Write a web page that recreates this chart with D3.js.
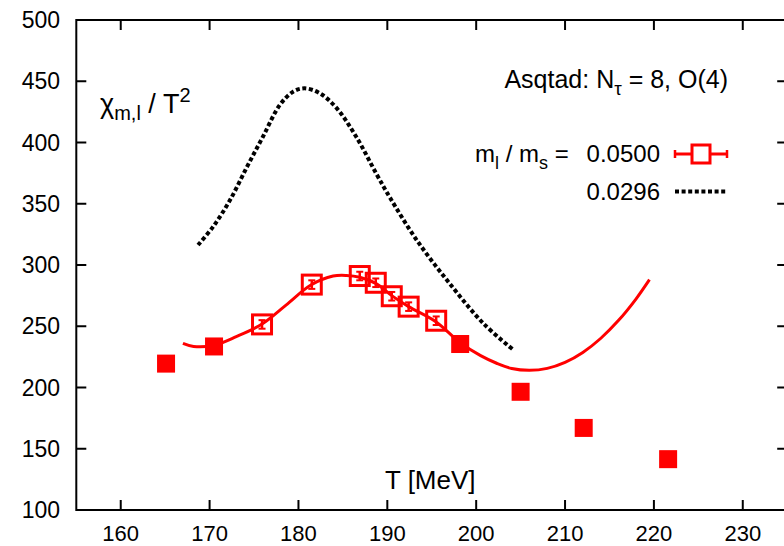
<!DOCTYPE html>
<html>
<head>
<meta charset="utf-8">
<script src="https://cdn.jsdelivr.net/npm/d3@7"></script>
<style>
  body { margin: 0; background: #fff; }
  svg { display: block; font-family: "Liberation Sans", Arial, Helvetica, sans-serif; }
</style>
</head>
<body>
<svg width="784" height="546"></svg>
<script>
// x ticks and y ticks
const xTicks = [160, 170, 180, 190, 200, 210, 220, 230];
const yTicks = [100, 150, 200, 250, 300, 350, 400, 450, 500];

// filled squares (no error bars)
const filledT = [165.1, 170.5, 198.2, 205.0, 212.1, 221.6];
const filledChi = [219.5, 233.5, 235.5, 196.5, 167.0, 141.5];

// open squares with error bars, ml/ms = 0.0500
const openT = [175.9, 181.5, 186.9, 188.7, 190.5, 192.4, 195.5];
const openChi = [251.5, 284.0, 291.0, 285.5, 274.5, 266.0, 254.5];
const openErr = [3.5, 3.5, 3.5, 3.5, 3.5, 3.5, 3.5];

// red fit curve
const fitT = [167.0, 168.2, 170.5, 173.0, 175.9, 178.6, 181.4, 183.9, 185.4, 186.9, 188.7, 190.5, 192.4, 195.5, 198.2, 200.5, 202.3, 204.0, 206.0, 208.0, 210.0, 212.0, 214.0, 216.0, 218.0, 219.5];
const fitChi = [236.0, 233.5, 234.5, 241.5, 251.8, 267.3, 283.7, 291.0, 291.5, 290.0, 285.0, 275.0, 266.0, 253.5, 236.5, 226.0, 219.8, 215.5, 214.0, 215.6, 220.5, 228.6, 240.0, 254.6, 272.4, 288.0];

// black dotted curve, ml/ms = 0.0296
const dotT = [168.7, 170.4, 172.3, 174.2, 176.0, 177.9, 179.4, 180.7, 182.4, 184.3, 186.5, 188.8, 190.3, 193.3, 197.0, 200.8, 204.1];
const dotChi = [316.3, 331.3, 353.0, 380.0, 404.7, 430.6, 441.5, 444.2, 440.2, 428.0, 404.7, 374.0, 355.0, 320.4, 285.0, 252.4, 231.2];

const svg = d3.select("svg");
const x = d3.scaleLinear([155, 235], [76.3, 787.2]);
const y = d3.scaleLinear([100, 500], [510, 20]);
const red = "#ff0000";

// frame
svg.append("rect")
  .attr("x", x(155)).attr("y", y(500))
  .attr("width", x(235) - x(155)).attr("height", y(100) - y(500))
  .attr("fill", "none").attr("stroke", "#000").attr("stroke-width", 2);

// ticks on all four sides, pointing inward
const tl = 10;
const tickG = svg.append("g").attr("stroke", "#000").attr("stroke-width", 2);
xTicks.forEach((t) => {
  tickG.append("line").attr("x1", x(t)).attr("x2", x(t)).attr("y1", y(100)).attr("y2", y(100) - tl);
  tickG.append("line").attr("x1", x(t)).attr("x2", x(t)).attr("y1", y(500)).attr("y2", y(500) + tl);
});
yTicks.forEach((t) => {
  tickG.append("line").attr("x1", x(155)).attr("x2", x(155) + tl).attr("y1", y(t)).attr("y2", y(t));
  tickG.append("line").attr("x1", x(235)).attr("x2", x(235) - tl).attr("y1", y(t)).attr("y2", y(t));
});

// tick labels
svg.append("g").selectAll("text").data(xTicks).join("text")
  .attr("x", (d) => x(d)).attr("y", 541)
  .attr("text-anchor", "middle").attr("font-size", 22)
  .text((d) => d);
svg.append("g").selectAll("text").data(yTicks).join("text")
  .attr("x", 60).attr("y", (d) => y(d) + 8)
  .attr("text-anchor", "end").attr("font-size", 23)
  .text((d) => d);

// axis labels
const yl = svg.append("text").attr("x", 100).attr("y", 113).attr("font-size", 27);
yl.append("tspan").text("χ");
yl.append("tspan").attr("dy", 7).attr("font-size", 20).text("m,l");
yl.append("tspan").attr("dy", -7).text(" / T");
yl.append("tspan").attr("dy", -11).attr("font-size", 20).text("2");

svg.append("text").attr("x", 385).attr("y", 489).attr("font-size", 26).text("T [MeV]");

// dotted curve
const line = d3.line().x((d) => x(d[0])).y((d) => y(d[1])).curve(d3.curveCatmullRom);
svg.append("path")
  .datum(d3.zip(dotT, dotChi))
  .attr("d", line)
  .attr("fill", "none").attr("stroke", "#000")
  .attr("stroke-width", 4).attr("stroke-dasharray", "4,2.6");

// red fit curve
svg.append("path")
  .datum(d3.zip(fitT, fitChi))
  .attr("d", line)
  .attr("fill", "none").attr("stroke", red).attr("stroke-width", 3);

// filled squares
const fsz = 18;
svg.append("g").selectAll("rect").data(d3.zip(filledT, filledChi)).join("rect")
  .attr("x", (d) => x(d[0]) - fsz / 2).attr("y", (d) => y(d[1]) - fsz / 2)
  .attr("width", fsz).attr("height", fsz).attr("fill", red);

// open squares with error bars
const osz = 19;
const og = svg.append("g").attr("stroke", red).attr("fill", "none");
d3.zip(openT, openChi, openErr).forEach(([t, c, e]) => {
  og.append("rect")
    .attr("x", x(t) - osz / 2).attr("y", y(c) - osz / 2)
    .attr("width", osz).attr("height", osz).attr("stroke-width", 3);
  og.append("line").attr("x1", x(t)).attr("x2", x(t))
    .attr("y1", y(c - e)).attr("y2", y(c + e)).attr("stroke-width", 2.5);
  [c - e, c + e].forEach((v) => {
    og.append("line").attr("x1", x(t) - 3.5).attr("x2", x(t) + 3.5)
      .attr("y1", y(v)).attr("y2", y(v)).attr("stroke-width", 2);
  });
});

// legend
const lfs = 24;
const t1 = svg.append("text").attr("x", 728).attr("y", 88)
  .attr("text-anchor", "end").attr("font-size", 25);
t1.append("tspan").text("Asqtad: N");
t1.append("tspan").attr("dy", 7).attr("font-size", 19).text("τ");
t1.append("tspan").attr("dy", -7).text(" = 8, O(4)");

const t2 = svg.append("text").attr("x", 475).attr("y", 162).attr("font-size", lfs);
t2.append("tspan").text("m");
t2.append("tspan").attr("dy", 7).attr("font-size", 18).text("l");
t2.append("tspan").attr("dy", -7).text(" / m");
t2.append("tspan").attr("dy", 7).attr("font-size", 18).text("s");
t2.append("tspan").attr("dy", -7).text(" =");

svg.append("text").attr("x", 660).attr("y", 162).attr("text-anchor", "end")
  .attr("font-size", lfs).text("0.0500");
svg.append("text").attr("x", 660).attr("y", 200).attr("text-anchor", "end")
  .attr("font-size", lfs).text("0.0296");

const lg = svg.append("g").attr("stroke", red).attr("fill", "none");
lg.append("line").attr("x1", 675).attr("x2", 727).attr("y1", 154).attr("y2", 154).attr("stroke-width", 3);
[675, 727].forEach((xx) => {
  lg.append("line").attr("x1", xx).attr("x2", xx).attr("y1", 150).attr("y2", 158).attr("stroke-width", 2.5);
});
lg.append("rect").attr("x", 692).attr("y", 145).attr("width", 18).attr("height", 18)
  .attr("fill", "#fff").attr("stroke-width", 3);

svg.append("line").attr("x1", 675).attr("x2", 727).attr("y1", 191.5).attr("y2", 191.5)
  .attr("stroke", "#000").attr("stroke-width", 4).attr("stroke-dasharray", "4,2.6");
</script>
</body>
</html>
